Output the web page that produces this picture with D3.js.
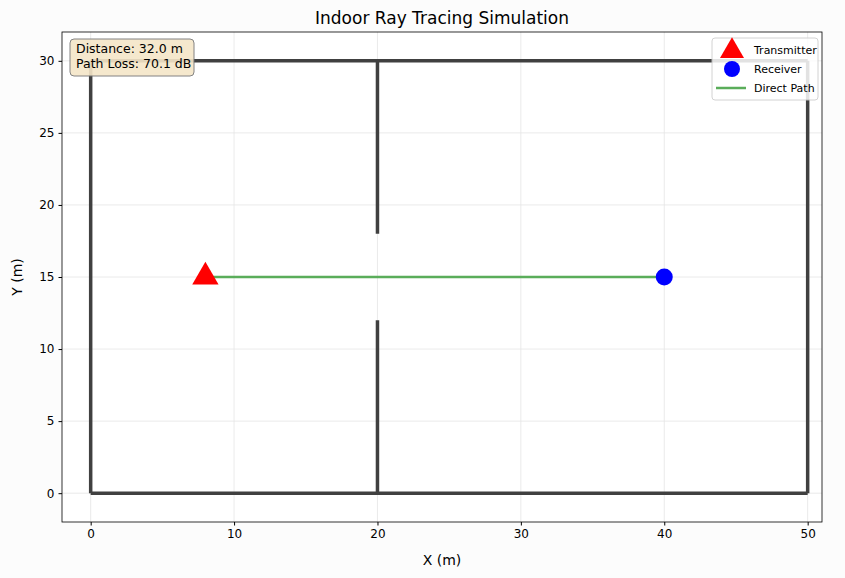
<!DOCTYPE html>
<html><head><meta charset="utf-8">
<script src="https://cdn.jsdelivr.net/npm/d3@7"></script>
<style>body{margin:0;background:#fcfcfc;font-family:"DejaVu Sans",sans-serif}</style>
</head><body><svg id="c" width="845" height="578"></svg>
<script>
const walls = [[0,0,50,0],[50,0,50,30],[50,30,0,30],[0,30,0,0],[20,0,20,12],[20,18,20,30]];
const tx = [8,15];
const rx = [40,15];
const xTicks = [0,10,20,30,40,50];
const yTicks = [0,5,10,15,20,25,30];
const info = ["Distance: 32.0 m","Path Loss: 70.1 dB"];
const legendItems = ["Transmitter","Receiver","Direct Path"];

const svg = d3.select("#c");
svg.append("rect").attr("width",845).attr("height",578).attr("fill","#fcfcfc");
const L=62,R=822,T=32,B=522;
const x = d3.scaleLinear().domain([-2,51]).range([L,R]);
const y = d3.scaleLinear().domain([-2,32]).range([B,T]);
svg.append("rect").attr("x",L).attr("y",T).attr("width",R-L).attr("height",B-T).attr("fill","#fff");
const g = svg.append("g");
xTicks.forEach(t=>g.append("line").attr("x1",x(t)).attr("x2",x(t)).attr("y1",T).attr("y2",B).attr("stroke","#e4e4e4").attr("stroke-width",0.8));
yTicks.forEach(t=>g.append("line").attr("y1",y(t)).attr("y2",y(t)).attr("x1",L).attr("x2",R).attr("stroke","#e4e4e4").attr("stroke-width",0.8));
walls.forEach(w=>g.append("line").attr("x1",x(w[0])).attr("y1",y(w[1])).attr("x2",x(w[2])).attr("y2",y(w[3])).attr("stroke","#404040").attr("stroke-width",3.5).attr("stroke-linecap","butt"));
g.append("line").attr("x1",x(tx[0])).attr("y1",y(tx[1])).attr("x2",x(rx[0])).attr("y2",y(rx[1])).attr("stroke","#5aad5a").attr("stroke-width",2.5);
const tri = d3.symbol().type(d3.symbolTriangle);
g.append("path").attr("d",tri.size(300)()).attr("transform",`translate(${x(tx[0])},${y(tx[1])})`).attr("fill","red");
g.append("circle").attr("cx",x(rx[0])).attr("cy",y(rx[1])).attr("r",8.5).attr("fill","blue");
svg.append("rect").attr("x",L).attr("y",T).attr("width",R-L).attr("height",B-T).attr("fill","none").attr("stroke","#000").attr("stroke-width",0.8);
const xa = svg.append("g").attr("transform",`translate(0,${B})`).call(d3.axisBottom(x).tickValues(xTicks).tickSize(3.5).tickPadding(4));
const ya = svg.append("g").attr("transform",`translate(${L},0)`).call(d3.axisLeft(y).tickValues(yTicks).tickSize(3.5).tickPadding(4));
[xa,ya].forEach(a=>{a.select(".domain").remove();a.selectAll("text").attr("font-size",12).attr("font-family","DejaVu Sans").attr("fill","#000");});
svg.append("text").attr("x",(L+R)/2).attr("y",565).attr("text-anchor","middle").attr("font-size",14).text("X (m)");
svg.append("text").attr("transform",`translate(22,${(T+B)/2}) rotate(-90)`).attr("text-anchor","middle").attr("font-size",14).text("Y (m)");
svg.append("text").attr("x",(L+R)/2).attr("y",24).attr("text-anchor","middle").attr("font-size",17).text("Indoor Ray Tracing Simulation");
// info box
svg.append("rect").attr("x",70).attr("y",39).attr("width",124).attr("height",37).attr("rx",4).attr("fill","#f5e6c8").attr("stroke","#777").attr("opacity",0.9);
info.forEach((s,i)=>svg.append("text").attr("x",76).attr("y",53+i*15).attr("font-size",12.5).text(s));
// legend
const lg = svg.append("g");
lg.append("rect").attr("x",712).attr("y",38).attr("width",106).attr("height",62).attr("rx",3).attr("fill","#fff").attr("stroke","#ccc").attr("opacity",0.85);
lg.append("path").attr("d",tri.size(250)()).attr("transform","translate(732,51)").attr("fill","red");
lg.append("circle").attr("cx",732).attr("cy",69).attr("r",8).attr("fill","blue");
lg.append("line").attr("x1",716).attr("x2",746).attr("y1",88).attr("y2",88).attr("stroke","#5aad5a").attr("stroke-width",2.5);
legendItems.forEach((s,i)=>lg.append("text").attr("x",754).attr("y",54+i*19).attr("font-size",11).text(s));
</script></body></html>
